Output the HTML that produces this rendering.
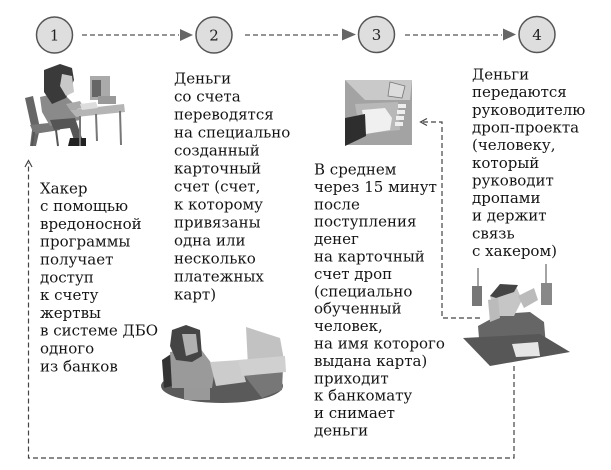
<!DOCTYPE html>
<html>
<head>
<meta charset="utf-8">
<style>
html,body{margin:0;padding:0;background:#fff;}
body{width:611px;height:470px;overflow:hidden;}
svg{display:block;}
.t{font-family:"DejaVu Serif","Liberation Serif","Noto Serif CJK SC",serif;font-size:15px;fill:#141414;}
.n{font-family:"DejaVu Serif","Liberation Serif",serif;font-size:15px;fill:#222;}
</style>
</head>
<body>
<svg width="611" height="470" viewBox="0 0 611 470" xmlns="http://www.w3.org/2000/svg">
  <!-- circles -->
  <g stroke="#555" stroke-width="1.5" fill="#dedede">
    <circle cx="54.5" cy="35" r="18"/>
    <circle cx="214" cy="35" r="18"/>
    <circle cx="376.5" cy="34.5" r="18"/>
    <circle cx="537" cy="34.5" r="18"/>
  </g>
  <text class="n" x="54.5" y="40.5" text-anchor="middle">1</text>
  <text class="n" x="214" y="40.5" text-anchor="middle">2</text>
  <text class="n" x="376.5" y="40" text-anchor="middle">3</text>
  <text class="n" x="537" y="40" text-anchor="middle">4</text>

  <!-- top arrows -->
  <g stroke="#555" stroke-width="1.2" stroke-dasharray="5 3" fill="none">
    <line x1="82" y1="35" x2="179" y2="35"/>
    <line x1="245" y1="35" x2="341" y2="35"/>
    <line x1="405" y1="35" x2="502" y2="35"/>
  </g>
  <g fill="#666">
    <polygon points="180,29 193,35 180,41"/>
    <polygon points="342,28.5 356,34.5 342,40.5"/>
    <polygon points="503,28.5 516,34.5 503,40.5"/>
  </g>

  <!-- feedback loop -->
  <g stroke="#444" stroke-width="1.2" stroke-dasharray="5 3" fill="none">
    <polyline points="514,366 514,458 28.5,458 28.5,163"/>
    <polyline points="480,318 442,318 442,122 421,122"/>
  </g>
  <g stroke="#444" stroke-width="1.2" fill="none">
    <polyline points="25,167 28.5,160.5 32,167"/>
    <polyline points="427,118.5 420.5,122 427,125.5"/>
  </g>

  <!-- hacker clipart -->
  <g>
    <polygon points="25,98 33,96 40,128 36,146 30,146 32,130" fill="#666"/>
    <polygon points="30,125 58,122 60,130 34,134" fill="#777"/>
    <line x1="34" y1="132" x2="32" y2="146" stroke="#555" stroke-width="2"/>
    <line x1="56" y1="130" x2="58" y2="146" stroke="#555" stroke-width="2"/>
    <polygon points="40,97 62,92 76,106 80,120 50,126 42,112" fill="#8a8a8a"/>
    <polygon points="50,120 75,118 82,138 74,140 70,128 54,130" fill="#555"/>
    <polygon points="70,138 86,138 86,146 68,146" fill="#222"/>
    <polygon points="44,70 60,64 72,68 74,80 66,98 52,104 44,92" fill="#3a3a3a"/>
    <polygon points="62,74 72,76 74,92 66,96 60,86" fill="#c8c8c8"/>
    <polygon points="66,104 80,101 84,108 70,110" fill="#aaa"/>
    <polygon points="70,110 124,104 125,112 76,117" fill="#b5b5b5"/>
    <line x1="80" y1="116" x2="80" y2="146" stroke="#777" stroke-width="2"/>
    <line x1="96" y1="114" x2="97" y2="141" stroke="#777" stroke-width="2"/>
    <line x1="120" y1="111" x2="121" y2="145" stroke="#777" stroke-width="2"/>
    <rect x="90" y="76" width="20" height="24" fill="#aaa"/>
    <rect x="92" y="80" width="9" height="17" fill="#666"/>
    <rect x="98" y="96" width="18" height="8" fill="#999"/>
    <polygon points="80,104 96,102 98,108 82,110" fill="#ddd"/>
  </g>

  <!-- woman clipart -->
  <g>
    <ellipse cx="222" cy="386" rx="61" ry="17" fill="#5a5a5a"/>
    <polygon points="240,370 283,368 282,390 262,398" fill="#777"/>
    <polygon points="162,360 174,352 176,385 164,388" fill="#333"/>
    <polygon points="170,352 200,348 215,368 212,388 172,388" fill="#9a9a9a"/>
    <polygon points="172,330 186,325 200,330 202,356 192,362 176,360 170,346" fill="#444"/>
    <polygon points="182,334 196,334 198,352 186,356" fill="#b0b0b0"/>
    <polygon points="210,362 240,360 246,382 216,386" fill="#ccc"/>
    <polygon points="246,327 280,338 284,360 248,366" fill="#c2c2c2"/>
    <polygon points="238,360 285,356 286,372 242,376" fill="#d0d0d0"/>
    <rect x="184" y="388" width="26" height="12" fill="#999"/>
  </g>

  <!-- ATM clipart -->
  <g>
    <rect x="345" y="80" width="67" height="65" fill="#a3a3a3"/>
    <polygon points="345,80 412,80 410,100 365,100" fill="#c9c9c9"/>
    <polygon points="390,82 405,86 402,98 388,96" fill="#ddd" stroke="#777" stroke-width="0.8"/>
    <polygon points="355,104 398,102 400,130 360,134" fill="#b8b8b8"/>
    <rect x="398" y="104" width="8" height="4" fill="#eee"/>
    <rect x="397" y="110" width="8" height="4" fill="#eee"/>
    <rect x="396" y="116" width="8" height="4" fill="#eee"/>
    <rect x="395" y="122" width="8" height="4" fill="#eee"/>
    <polygon points="362,110 385,108 392,118 390,130 366,134" fill="#f0f0f0"/>
    <polygon points="345,118 365,114 366,136 345,146" fill="#2e2e2e"/>
  </g>

  <!-- man clipart -->
  <g>
    <line x1="478" y1="268" x2="478" y2="288" stroke="#666" stroke-width="1.2"/>
    <rect x="472" y="286" width="10" height="20" fill="#777"/>
    <line x1="546" y1="264" x2="546" y2="284" stroke="#666" stroke-width="1.2"/>
    <rect x="541" y="283" width="11" height="22" fill="#888"/>
    <polygon points="478,326 500,314 530,312 544,322 546,346 480,350" fill="#666"/>
    <polygon points="490,296 500,286 516,286 522,300 514,316 496,316" fill="#c6c6c6"/>
    <polygon points="490,296 500,284 518,285 514,292 496,298" fill="#444"/>
    <polygon points="488,300 498,298 500,318 490,322" fill="#bbb"/>
    <polygon points="518,296 534,288 538,300 524,308" fill="#bbb"/>
    <polygon points="463,338 540,334 570,352 490,366" fill="#575757"/>
    <polygon points="512,344 538,342 540,356 516,357" fill="#e6e6e6"/>
  </g>

  <!-- Column 1 -->
  <g class="t">
    <text x="40" y="193.3">Хакер</text>
    <text x="40" y="211.1">с помощью</text>
    <text x="40" y="228.9">вредоносной</text>
    <text x="40" y="246.7">программы</text>
    <text x="40" y="264.5">получает</text>
    <text x="40" y="282.3">доступ</text>
    <text x="40" y="300.1">к счету</text>
    <text x="40" y="317.9">жертвы</text>
    <text x="40" y="335.7">в системе ДБО</text>
    <text x="40" y="353.5">одного</text>
    <text x="40" y="371.3">из банков</text>
  </g>

  <!-- Column 2 -->
  <g class="t">
    <text x="174" y="83.5">Деньги</text>
    <text x="174" y="101.5">со счета</text>
    <text x="174" y="119.5">переводятся</text>
    <text x="174" y="137.5">на специально</text>
    <text x="174" y="155.5">созданный</text>
    <text x="174" y="173.5">карточный</text>
    <text x="174" y="191.5">счет (счет,</text>
    <text x="174" y="209.5">к которому</text>
    <text x="174" y="227.5">привязаны</text>
    <text x="174" y="245.5">одна или</text>
    <text x="174" y="263.5">несколько</text>
    <text x="174" y="281.5">платежных</text>
    <text x="174" y="299.5">карт)</text>
  </g>

  <!-- Column 3 -->
  <g class="t">
    <text x="314" y="174.5">В среднем</text>
    <text x="314" y="191.9">через 15 минут</text>
    <text x="314" y="209.3">после</text>
    <text x="314" y="226.7">поступления</text>
    <text x="314" y="244.1">денег</text>
    <text x="314" y="261.5">на карточный</text>
    <text x="314" y="278.9">счет дроп</text>
    <text x="314" y="296.3">(специально</text>
    <text x="314" y="313.7">обученный</text>
    <text x="314" y="331.1">человек,</text>
    <text x="314" y="348.5">на имя которого</text>
    <text x="314" y="365.9">выдана карта)</text>
    <text x="314" y="383.3">приходит</text>
    <text x="314" y="400.7">к банкомату</text>
    <text x="314" y="418.1">и снимает</text>
    <text x="314" y="435.5">деньги</text>
  </g>

  <!-- Column 4 -->
  <g class="t">
    <text x="472" y="79.5">Деньги</text>
    <text x="472" y="97.2">передаются</text>
    <text x="472" y="114.8">руководителю</text>
    <text x="472" y="132.5">дроп-проекта</text>
    <text x="472" y="150.1">(человеку,</text>
    <text x="472" y="167.8">который</text>
    <text x="472" y="185.4">руководит</text>
    <text x="472" y="203.1">дропами</text>
    <text x="472" y="220.7">и держит</text>
    <text x="472" y="238.4">связь</text>
    <text x="472" y="256.0">с хакером)</text>
  </g>
</svg>
</body>
</html>
